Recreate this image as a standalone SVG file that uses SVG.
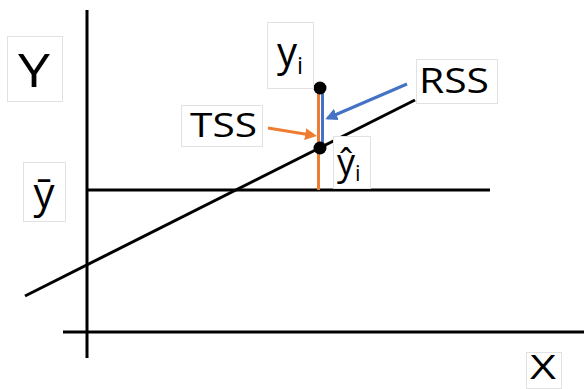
<svg xmlns="http://www.w3.org/2000/svg" width="584" height="389" viewBox="0 0 584 389">
<style>
.box{fill:#fff;stroke:#e2e2e2;stroke-width:1}
.t{font-family:"Open Sans","Liberation Sans",sans-serif;fill:#000}
.ln{stroke:#000;stroke-width:3;fill:none}
</style>
<defs>
<marker id="ab" markerWidth="4" markerHeight="4" refX="3" refY="2" orient="auto" markerUnits="strokeWidth"><path d="M0,0 L4,2 L0,4 z" fill="#4472c4"/></marker>
<marker id="ao" markerWidth="4" markerHeight="4" refX="3" refY="2" orient="auto" markerUnits="strokeWidth"><path d="M0,0 L4,2 L0,4 z" fill="#ed7d31"/></marker>
</defs>
<rect width="584" height="389" fill="#fff"/>
<g id="axes">
<line class="ln" x1="87" y1="10" x2="87" y2="358"/>
<line class="ln" x1="63" y1="332" x2="584" y2="332"/>
</g>
<g id="connectors">
<line class="ln" x1="87" y1="190" x2="490" y2="190"/>
<line class="ln" x1="25" y1="296" x2="415" y2="100"/>
<line x1="318.5" y1="90" x2="318.5" y2="190" stroke="#ed7d31" stroke-width="3"/>
<line x1="322.5" y1="90" x2="322.5" y2="148" stroke="#4472c4" stroke-width="3"/>
<line x1="407" y1="84" x2="328" y2="118" stroke="#4472c4" stroke-width="3" marker-end="url(#ab)"/>
<line x1="268" y1="128" x2="314" y2="135.5" stroke="#ed7d31" stroke-width="3" marker-end="url(#ao)"/>
<circle cx="320" cy="88" r="6.5" fill="#000"/>
<circle cx="320" cy="148" r="6.5" fill="#000"/>
</g>
<g id="Y"><rect class="box" x="7.5" y="36.5" width="55" height="65"/><text class="t" x="18" y="87" font-size="46" textLength="32" lengthAdjust="spacingAndGlyphs">Y</text></g>
<g id="ybar"><rect class="box" x="23.5" y="162.5" width="42" height="59"/><text class="t" x="44" y="208" font-size="42" text-anchor="middle">ȳ</text></g>
<g id="yi"><rect class="box" x="267.5" y="22.5" width="46" height="66"/><text class="t" x="277" y="66" font-size="40">y<tspan font-size="24" dy="8">i</tspan></text></g>
<g id="yhat"><rect class="box" x="333.5" y="136.5" width="37" height="52"/><text class="t" x="337" y="175" font-size="36">ŷ<tspan font-size="22" dy="6">i</tspan></text></g>
<g id="TSS"><rect class="box" x="181.5" y="105.5" width="81" height="41"/><text class="t" x="190" y="137" font-size="33" textLength="67" lengthAdjust="spacingAndGlyphs">TSS</text></g>
<g id="RSS"><rect class="box" x="416.5" y="59.5" width="81" height="44"/><text class="t" x="419" y="93" font-size="34" textLength="70" lengthAdjust="spacingAndGlyphs">RSS</text></g>
<g id="X"><rect class="box" x="526.5" y="352.5" width="35" height="36"/><text class="t" x="530" y="379" font-size="32" textLength="26" lengthAdjust="spacingAndGlyphs">X</text></g>
</svg>
